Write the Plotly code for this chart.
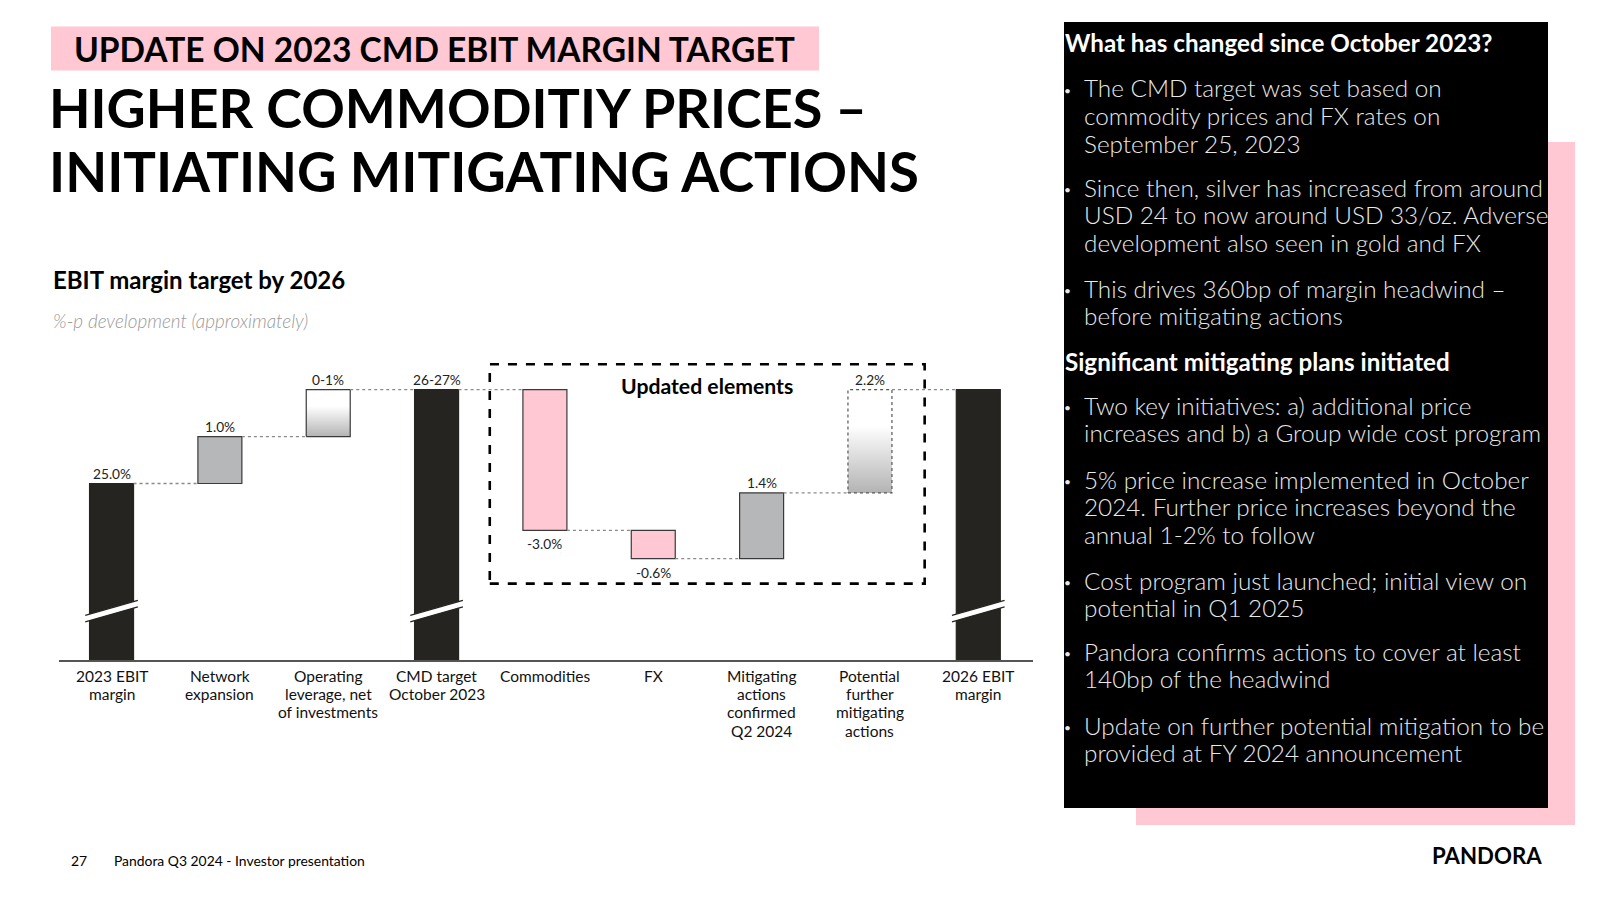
import plotly.graph_objects as go

# ---------------- data ----------------
categories = [["2023 EBIT", "margin"], ["Network", "expansion"], ["Operating", "leverage, net", "of investments"],
              ["CMD target", "October 2023"], ["Commodities"], ["FX"],
              ["Mitigating", "actions", "confirmed", "Q2 2024"], ["Potential", "further", "mitigating", "actions"],
              ["2026 EBIT", "margin"]]
measures = ["total", "relative", "relative", "total", "relative", "relative", "relative", "relative", "total"]
values = [25.0, 1.0, 1.0, 27.0, -3.0, -0.6, 1.4, 2.2, 27.0]
value_labels = ["25.0%", "1.0%", "0-1%", "26-27%", "-3.0%", "-0.6%", "1.4%", "2.2%", ""]
bar_styles = ["total", "gray", "gradient", "total", "pink", "pink", "gray", "gradient_dotted", "total"]

# ---------------- styling ----------------
OFF = 8  # page offset of the figure (body margin)
W, H = 1600, 900
ML, MT = 51, 332
PW, PH = 974, 320
MR, MB = W - ML - PW, H - MT - PH
Y_MIN, Y_MAX = 21.237, 28.06
X_MIN, X_MAX = -0.485, 8.505
BAR_W = 0.406
DARK = "#262420"
PINK = "#FFC8D3"
GRAY = "#B6B7B9"
EDGE = "#3a3a3a"
FONT = "Lato"


def PX(px):
    return (px - OFF - ML) / PW


def PY(py):
    return (MT + PH - (py - OFF)) / PH


# compute bar bases / tops
bases, heights, levels = [], [], []
cum = 0.0
for m, v in zip(measures, values):
    if m == "total":
        bases.append(0.0)
        heights.append(v)
        cum = v
    else:
        bases.append(cum if v >= 0 else cum + v)
        heights.append(abs(v))
        cum = cum + v
    levels.append(cum)

fig = go.Figure()

# solid bars
solid_idx = [i for i, s in enumerate(bar_styles) if not s.startswith("gradient")]
color_map = {"total": DARK, "gray": GRAY, "pink": PINK}
fig.add_trace(go.Bar(
    x=solid_idx,
    y=[heights[i] for i in solid_idx],
    base=[bases[i] for i in solid_idx],
    width=BAR_W,
    marker=dict(color=[color_map[bar_styles[i]] for i in solid_idx],
                line=dict(color=[DARK if bar_styles[i] == "total" else EDGE for i in solid_idx], width=1.2)),
    hoverinfo="skip", showlegend=False,
))

# gradient bars
hw = BAR_W / 2
for i, s in enumerate(bar_styles):
    if not s.startswith("gradient"):
        continue
    b, t = bases[i], bases[i] + heights[i]
    fig.add_trace(go.Scatter(
        x=[i - hw, i + hw, i + hw, i - hw, i - hw],
        y=[b, b, t, t, b],
        mode="lines", fill="toself",
        fillgradient=dict(type="vertical",
                          colorscale=[[0, "#b3b3b3"], [0.65, "#ffffff"], [1, "#ffffff"]]),
        line=dict(color=EDGE if s == "gradient" else "#555555", width=1.2,
                  dash="solid" if s == "gradient" else "dot"),
        hoverinfo="skip", showlegend=False,
    ))

# connectors
for i in range(len(values) - 1):
    lvl = levels[i]
    fig.add_trace(go.Scatter(
        x=[i + hw, i + 1 - hw], y=[lvl, lvl], mode="lines",
        line=dict(color="#8a8a8a", width=1.3, dash="dot"),
        hoverinfo="skip", showlegend=False,
    ))

shapes = []
annotations = []

# axis breaks on totals
yc, rise, thick, ext = 22.28, 0.32, 0.14, 0.04
for i, m in enumerate(measures):
    if m != "total":
        continue
    x0, x1 = i - hw - ext, i + hw + ext
    yl, yr = yc - rise / 2, yc + rise / 2
    shapes.append(dict(type="path", xref="x", yref="y",
                       path=f"M {x0},{yl - thick/2} L {x1},{yr - thick/2} L {x1},{yr + thick/2} L {x0},{yl + thick/2} Z",
                       fillcolor="white", line=dict(width=0), layer="above"))
    for sgn in (-1, 1):
        shapes.append(dict(type="line", xref="x", yref="y",
                           x0=x0, x1=x1, y0=yl + sgn * thick / 2, y1=yr + sgn * thick / 2,
                           line=dict(color=DARK, width=1.3), layer="above"))

# dashed "updated elements" box
shapes.append(dict(type="rect", xref="x", yref="y", x0=3.491, x1=7.505, y0=22.866, y1=27.544,
                   line=dict(color="black", width=2.6, dash="dash"), fillcolor="rgba(0,0,0,0)", layer="above"))
annotations.append(dict(x=5.5, y=27.08, xref="x", yref="y", text="<b>Updated elements</b>",
                        showarrow=False, font=dict(family=FONT, size=21.2, color="black"),
                        yanchor="middle"))

# value labels
for i, lab in enumerate(value_labels):
    if not lab:
        continue
    if values[i] >= 0:
        annotations.append(dict(x=i, y=bases[i] + heights[i], xref="x", yref="y", text=lab, showarrow=False,
                                yanchor="bottom", yshift=0, font=dict(family=FONT, size=13.7, color="#222")))
    else:
        annotations.append(dict(x=i, y=bases[i], xref="x", yref="y", text=lab, showarrow=False,
                                yanchor="top", yshift=-3, font=dict(family=FONT, size=13.7, color="#222")))

# category labels (one annotation per line, below the axis)
for i, lines in enumerate(categories):
    for k, line in enumerate(lines):
        annotations.append(dict(x=i, xref="x", yref="paper", y=PY(675.5 + k * 18.4), text=line,
                                showarrow=False, yanchor="middle", xanchor="center",
                                font=dict(family=FONT, size=15.5, color="#111")))

# ---------- page decoration (left) ----------
shapes.append(dict(type="rect", xref="paper", yref="paper", x0=PX(51), x1=PX(819), y0=PY(70.5), y1=PY(26.5),
                   fillcolor=PINK, line=dict(width=0), layer="below"))
annotations.append(dict(xref="paper", yref="paper", x=PX(72), y=PY(48.5), xanchor="left", yanchor="middle",
                        text="<b>UPDATE ON 2023 CMD EBIT MARGIN TARGET</b>", showarrow=False,
                        font=dict(family=FONT, size=33.5, color="black")))
annotations.append(dict(xref="paper", yref="paper", x=PX(47), y=PY(108), xanchor="left", yanchor="middle",
                        text="<b>HIGHER COMMODITIY PRICES –</b>", showarrow=False,
                        font=dict(family=FONT, size=54, color="black")))
annotations.append(dict(xref="paper", yref="paper", x=PX(47), y=PY(171), xanchor="left", yanchor="middle",
                        text="<b>INITIATING MITIGATING ACTIONS</b>", showarrow=False,
                        font=dict(family=FONT, size=54.5, color="black")))
annotations.append(dict(xref="paper", yref="paper", x=PX(51), y=PY(279), xanchor="left", yanchor="middle",
                        text="<b>EBIT margin target by 2026</b>", showarrow=False,
                        font=dict(family=FONT, size=24, color="black")))
annotations.append(dict(xref="paper", yref="paper", x=PX(51), y=PY(320), xanchor="left", yanchor="middle",
                        text="<i>%-p development (approximately)</i>", showarrow=False,
                        font=dict(family=FONT, size=18.9, color="#9a9a9a", weight=300)))

# footer
annotations.append(dict(xref="paper", yref="paper", x=PX(69), y=PY(860), xanchor="left", yanchor="middle",
                        text="27", showarrow=False, font=dict(family=FONT, size=13.9, color="black")))
annotations.append(dict(xref="paper", yref="paper", x=PX(112), y=PY(860), xanchor="left", yanchor="middle",
                        text="Pandora Q3 2024 - Investor presentation", showarrow=False,
                        font=dict(family=FONT, size=13.9, color="black")))
annotations.append(dict(xref="paper", yref="paper", x=PX(1544), y=PY(855), xanchor="right", yanchor="middle",
                        text="<b>PANDORA</b>", showarrow=False, font=dict(family=FONT, size=22.2, color="black")))

# ---------- right panel ----------
shapes.append(dict(type="rect", xref="paper", yref="paper", x0=PX(1136), x1=PX(1575), y0=PY(825), y1=PY(142),
                   fillcolor=PINK, line=dict(width=0), layer="below"))
shapes.append(dict(type="rect", xref="paper", yref="paper", x0=PX(1064), x1=PX(1548), y0=PY(808), y1=PY(22),
                   fillcolor="black", line=dict(width=0), layer="below"))

LINE_H = 27.8
panel_items = [
    ("h", 42, "What has changed since October 2023?"),
    ("b", 88, ["The CMD target was set based on", "commodity prices and FX rates on", "September 25, 2023"]),
    ("b", 187, ["Since then, silver has increased from around", "USD 24 to now around USD 33/oz. Adverse",
                "development also seen in gold and FX"]),
    ("b", 288, ["This drives 360bp of margin headwind –", "before mitigating actions"]),
    ("h", 361, "Significant mitigating plans initiated"),
    ("b", 405, ["Two key initiatives: a) additional price", "increases and b) a Group wide cost program"]),
    ("b", 479, ["5% price increase implemented in October", "2024. Further price increases beyond the",
                "annual 1-2% to follow"]),
    ("b", 580, ["Cost program just launched; initial view on", "potential in Q1 2025"]),
    ("b", 651, ["Pandora confirms actions to cover at least", "140bp of the headwind"]),
    ("b", 725, ["Update on further potential mitigation to be", "provided at FY 2024 announcement"]),
]
for kind, y0, txt in panel_items:
    if kind == "h":
        annotations.append(dict(xref="paper", yref="paper", x=PX(1063), y=PY(y0), xanchor="left", yanchor="middle",
                                text=f"<b>{txt}</b>", showarrow=False,
                                font=dict(family=FONT, size=24.2, color="white")))
    else:
        for k, line in enumerate(txt):
            annotations.append(dict(xref="paper", yref="paper", x=PX(1082), y=PY(y0 + k * LINE_H),
                                    xanchor="left", yanchor="middle", text=line, showarrow=False,
                                    font=dict(family=FONT, size=24.3, color="#e8e8e8", weight=300)))
        annotations.append(dict(xref="paper", yref="paper", x=PX(1067), y=PY(y0 + 2), xanchor="center",
                                yanchor="middle", text="•", showarrow=False,
                                font=dict(family=FONT, size=12, color="#e8e8e8")))

fig.update_layout(
    width=W, height=H,
    margin=dict(l=ML, r=MR, t=MT, b=MB, autoexpand=False),
    paper_bgcolor="white", plot_bgcolor="white",
    showlegend=False,
    shapes=shapes, annotations=annotations,
    xaxis=dict(range=[X_MIN, X_MAX], showticklabels=False, showgrid=False, zeroline=False, showline=True,
               linecolor="#555555", linewidth=1.5, ticks="", fixedrange=True),
    yaxis=dict(range=[Y_MIN, Y_MAX], visible=False, showgrid=False, zeroline=False, fixedrange=True),
    font=dict(family=FONT),
)

fig.write_html("out.html")
